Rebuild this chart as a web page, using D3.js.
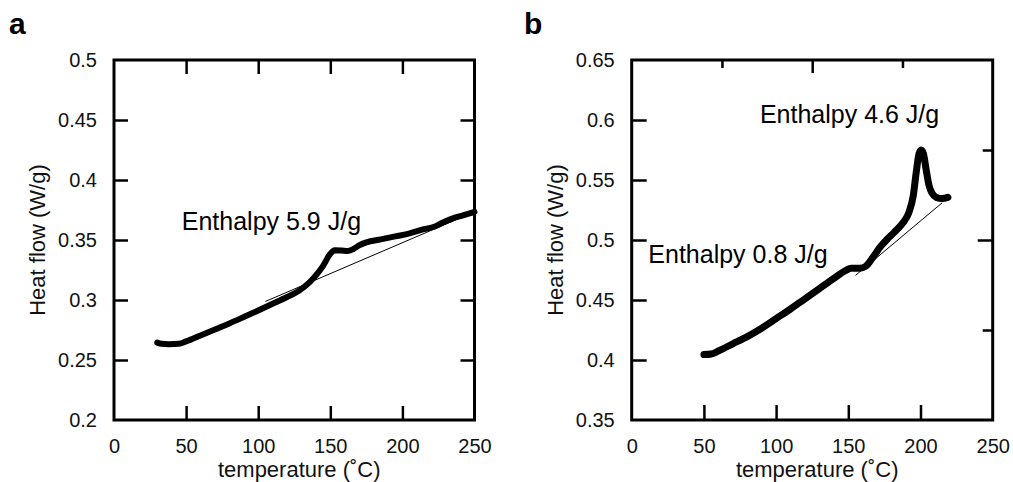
<!DOCTYPE html>
<html>
<head>
<meta charset="utf-8">
<script src="https://cdn.jsdelivr.net/npm/d3@7"></script>
<style>
  body { margin: 0; background: #fff; }
  svg { font-family: "Liberation Sans", Arial, Helvetica, sans-serif; }
</style>
</head>
<body>
<svg id="chart" width="1013" height="482"></svg>
<script>
// data
// panel a
const tempA = [30, 33, 38, 45, 50, 60, 70, 80, 90, 100, 110, 120, 128, 135, 140, 145, 150, 153, 158, 162, 166, 170, 175, 185, 195, 205, 215, 222, 228, 235, 242, 250];
const flowA = [0.2645, 0.2635, 0.2632, 0.2635, 0.2655, 0.2705, 0.2755, 0.2805, 0.2858, 0.2912, 0.2968, 0.3025, 0.3075, 0.314, 0.3205, 0.3285, 0.3385, 0.3415, 0.3412, 0.3408, 0.3425, 0.3455, 0.348, 0.3505, 0.353, 0.3555, 0.359, 0.361, 0.3645, 0.368, 0.3705, 0.3735];
const baseTempA = [105, 250];
const baseFlowA = [0.2988, 0.3735];

// panel b
const tempB = [50, 55, 60, 70, 80, 90, 100, 110, 120, 130, 140, 148, 152, 158, 162, 167, 172, 178, 184, 188, 192, 195, 197, 199, 200.5, 202, 204, 206, 208, 211, 215, 219];
const flowB = [0.4045, 0.405, 0.4075, 0.4135, 0.4195, 0.4265, 0.4345, 0.4425, 0.451, 0.4595, 0.468, 0.4745, 0.4765, 0.4765, 0.478, 0.4855, 0.494, 0.502, 0.509, 0.5145, 0.523, 0.537, 0.556, 0.572, 0.575, 0.572, 0.558, 0.545, 0.539, 0.5355, 0.5345, 0.5355];
const baseTempB = [155, 215];
const baseFlowB = [0.4705, 0.531];

// ticks
const xTicks = [0, 50, 100, 150, 200, 250];
const yTicksA = [0.2, 0.25, 0.3, 0.35, 0.4, 0.45, 0.5];
const yTicksB = [0.35, 0.4, 0.45, 0.5, 0.55, 0.6, 0.65];

// annotations (data coords of text start / baseline)
const notesA = [{ t: 47, v: 0.3583, label: "Enthalpy 5.9 J/g" }];
const notesB = [
  { t: 88.8, v: 0.5973, label: "Enthalpy 4.6 J/g" },
  { t: 11.5, v: 0.4811, label: "Enthalpy 0.8 J/g" }
];

const svg = d3.select("#chart");

const drawPanel = (p) => {
  const x = d3.scaleLinear().domain([0, 250]).range([p.left, p.right]);
  const y = d3.scaleLinear().domain(p.yDomain).range([p.bottom, p.top]);
  const g = svg.append("g");

  // axes only for the labels
  const leftAxis = g.append("g")
    .attr("transform", `translate(${p.left},0)`)
    .call(d3.axisLeft(y).tickValues(p.yTicks).tickFormat(d => d).tickSize(0).tickPadding(17));
  const bottomAxis = g.append("g")
    .attr("transform", `translate(0,${p.bottom})`)
    .call(d3.axisBottom(x).tickValues(xTicks).tickFormat(d => d).tickSize(0).tickPadding(19));

  [leftAxis, bottomAxis].forEach(a => {
    a.select(".domain").remove();
    a.selectAll("text").attr("font-size", 20).attr("fill", "#111");
  });

  // inward tick marks, done with d3 axes turned to face the inside of the box
  const inner = [
    { axis: d3.axisRight(y).tickValues(p.yTicks.slice(1, -1)).tickSize(p.tickLen), at: `translate(${p.left},0)` },
    { axis: d3.axisTop(x).tickValues(xTicks.slice(1, -1)).tickSize(p.tickLen), at: `translate(0,${p.bottom})` },
    { axis: d3.axisBottom(x).tickValues(p.topMinor).tickSize(p.topLen[0]), at: `translate(0,${p.top})` },
    { axis: d3.axisBottom(x).tickValues(p.topMajor).tickSize(p.topLen[1]), at: `translate(0,${p.top})` },
    { axis: d3.axisLeft(y).tickValues(p.rightMinor).tickSize(p.rightLen[0]), at: `translate(${p.right},0)` },
    { axis: d3.axisLeft(y).tickValues(p.rightMajor).tickSize(p.rightLen[1]), at: `translate(${p.right},0)` }
  ];
  inner.forEach(d => {
    const a = g.append("g")
      .attr("class", "inner-ticks")
      .attr("transform", d.at)
      .call(d.axis.tickFormat(""));
    a.select(".domain").remove();
    a.selectAll("text").remove();
    a.selectAll("line").attr("stroke", "#000").attr("stroke-width", 2.5);
  });

  // frame
  g.append("rect")
    .attr("x", p.left).attr("y", p.top)
    .attr("width", p.right - p.left).attr("height", p.bottom - p.top)
    .attr("fill", "none").attr("stroke", "#000").attr("stroke-width", 3);

  // baseline (thin)
  g.append("path")
    .attr("d", d3.line().x(d => x(d[0])).y(d => y(d[1]))(d3.zip(p.baseT, p.baseF)))
    .attr("fill", "none").attr("stroke", "#000").attr("stroke-width", 1);

  // measured curve (thick)
  g.append("path")
    .attr("d", d3.line().curve(d3.curveMonotoneX).x(d => x(d[0])).y(d => y(d[1]))(d3.zip(p.temp, p.flow)))
    .attr("fill", "none").attr("stroke", "#000")
    .attr("stroke-width", p.lineW)
    .attr("stroke-linecap", "round").attr("stroke-linejoin", "round");

  // enthalpy notes
  g.selectAll("text.note")
    .data(p.notes)
    .enter()
    .append("text")
    .attr("class", "note")
    .attr("x", d => x(d.t))
    .attr("y", d => y(d.v))
    .attr("font-size", 25)
    .attr("fill", "#000")
    .text(d => d.label);

  // axis titles
  g.append("text")
    .attr("x", (p.left + p.right) / 2 + 5)
    .attr("y", 476.5)
    .attr("text-anchor", "middle")
    .attr("font-size", 22)
    .attr("fill", "#111")
    .text("temperature (˚C)");
  g.append("text")
    .attr("transform", `translate(${p.left - 69},${(p.top + p.bottom) / 2}) rotate(-90)`)
    .attr("text-anchor", "middle")
    .attr("font-size", 22)
    .attr("fill", "#111")
    .text("Heat flow (W/g)");

  // panel letter
  g.append("text")
    .attr("x", p.letterX).attr("y", 34)
    .attr("font-size", 30)
    .attr("font-weight", "bold")
    .text(p.letter);
};

drawPanel({
  left: 114, right: 474.5, top: 60, bottom: 420,
  yDomain: [0.2, 0.5], yTicks: yTicksA, tickLen: 14,
  topMinor: [50, 100, 150, 200], topMajor: [], topLen: [14, 14],
  rightMinor: [0.25, 0.3, 0.35, 0.4, 0.45], rightMajor: [], rightLen: [14, 14],
  temp: tempA, flow: flowA, baseT: baseTempA, baseF: baseFlowA,
  lineW: 6, notes: notesA, letter: "a", letterX: 9
});

drawPanel({
  left: 631.7, right: 992.7, top: 60, bottom: 420,
  yDomain: [0.35, 0.65], yTicks: yTicksB, tickLen: 15,
  topMinor: [62.5, 187.5], topMajor: [125], topLen: [8, 13],
  rightMinor: [0.425, 0.575], rightMajor: [0.5], rightLen: [10, 15],
  temp: tempB, flow: flowB, baseT: baseTempB, baseF: baseFlowB,
  lineW: 7, notes: notesB, letter: "b", letterX: 524
});
</script>
</body>
</html>
